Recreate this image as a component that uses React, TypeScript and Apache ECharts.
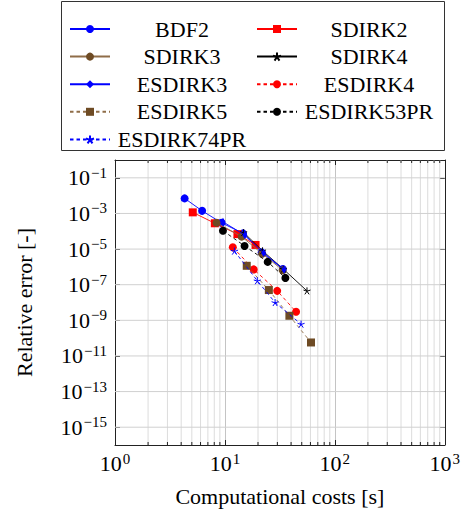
import React, { useEffect, useRef } from 'react';
import * as echarts from 'echarts';

const FONT = '"Liberation Serif", "Times New Roman", serif';

// axis ranges and ticks
const xRange = [1, 1000];
const yRange = [1e-16, 1];
const yTickValues = [1e-1, 1e-3, 1e-5, 1e-7, 1e-9, 1e-11, 1e-13, 1e-15];
const xMinorValues = [2, 3, 4, 5, 6, 7, 8, 9, 20, 30, 40, 50, 60, 70, 80, 90, 200, 300, 400, 500, 600, 700, 800, 900];

// series data: computational cost [s] and relative error [-]
const costBDF2 = [4.3, 6.2, 9.3, 14.6, 21.6, 33.6];
const errBDF2 = [7e-3, 1.4e-3, 3.0e-4, 7.6e-5, 6.5e-6, 7.6e-7];
const costSDIRK2 = [5.1, 8.1, 13.0, 19.0];
const errSDIRK2 = [1.15e-3, 2.8e-4, 6.9e-5, 1.7e-5];
const costSDIRK3 = [8.4, 14.2, 21.8, 33.5];
const errSDIRK3 = [3.0e-4, 5.0e-5, 5.5e-6, 6.5e-7];
const costSDIRK4 = [14.8, 22.0, 34.0, 55.8];
const errSDIRK4 = [8.5e-5, 8.0e-6, 7.5e-7, 4.5e-8];
const costESDIRK3 = [9.6, 15.2, 22.5, 34.5];
const errESDIRK3 = [3.4e-4, 6.0e-5, 6.0e-6, 7.0e-7];
const costESDIRK4 = [11.8, 18.3, 29.9, 44.4];
const errESDIRK4 = [1.25e-5, 7.2e-7, 4.5e-8, 3.0e-9];
const costESDIRK5 = [15.8, 25.1, 38.6, 60.7];
const errESDIRK5 = [1.15e-6, 5.0e-8, 1.8e-9, 5.7e-11];
const costESDIRK53PR = [9.6, 15.1, 24.5, 35.5];
const errESDIRK53PR = [1.07e-4, 1.5e-5, 1.9e-6, 2.4e-7];
const costESDIRK74PR = [12.2, 19.7, 28.6, 49.3];
const errESDIRK74PR = [7.7e-6, 1.66e-7, 1.0e-8, 6.1e-10];

// legend order: [column 1 entries, column 2 entries]
const legendCol1 = ['BDF2', 'SDIRK3', 'ESDIRK3', 'ESDIRK5', 'ESDIRK74PR'];
const legendCol2 = ['SDIRK2', 'SDIRK4', 'ESDIRK4', 'ESDIRK53PR'];

const STAR = 'path://M0,-10L0,0M9.51,-3.09L0,0M5.88,8.09L0,0M-5.88,8.09L0,0M-9.51,-3.09L0,0';
const BLUE = '#0000ff';
const RED = '#ff0000';
const BROWN = '#6e4b24';
const BROWN_LINE = '#8f6d48';
const BLACK = '#000000';

function mk(name: string, xs: number[], ys: number[], color: string, symbol: string, size: any, dashed: boolean, z: number, lineColor?: string, stroked?: boolean) {
  return {
    type: 'line',
    name,
    data: xs.map((x, i) => [x, ys[i]]),
    symbol,
    symbolSize: size,
    showAllSymbol: true,
    z,
    lineStyle: { color: lineColor || color, width: 0.9, type: dashed ? [3.5, 3] : 'solid' },
    itemStyle: { color, borderColor: color, borderWidth: stroked ? 1 : 0 },
    emphasis: { disabled: true },
  };
}

function supLabel(v: number) {
  const e = Math.round(Math.log10(v));
  const s = e < 0 ? '\u2212' + String(-e) : String(e);
  return `{b|10}{s|${s}}`;
}

const labelRich = {
  b: { fontFamily: FONT, fontSize: 22, color: '#000' },
  s: { fontFamily: FONT, fontSize: 15, color: '#000', padding: [0, 0, 10, 1] },
};

export default function App() {
  const ref = useRef<HTMLDivElement>(null);
  useEffect(() => {
    if (!ref.current) return;
    const chart = echarts.init(ref.current, undefined, { renderer: 'svg' });
    const legendCommon = {
      orient: 'vertical',
      itemWidth: 40,
      itemHeight: 10,
      itemGap: 0,
      padding: 0,
      selectedMode: false,
      formatter: (n: string) => `{c|${n}}`,
      textStyle: {
        rich: {
          c: { width: 134, align: 'center', fontFamily: FONT, fontSize: 22, color: '#000', lineHeight: 10 },
        },
      },
    };
    const legends: any[] = [];
    legendCol1.forEach((n, i) => legends.push({ ...legendCommon, left: 69, top: 18 + i * 27.6, data: [n] }));
    legendCol2.forEach((n, i) => legends.push({ ...legendCommon, left: 256, top: 18 + i * 27.6, data: [n] }));
    const option: any = {
      animation: false,
      textStyle: { fontFamily: FONT },
      grid: { left: 115, right: 17, top: 160, bottom: 72 },
      legend: legends,
      graphic: [
        {
          type: 'rect',
          shape: { x: 61.5, y: 1.5, width: 383, height: 149 },
          style: { fill: 'none', stroke: '#333', lineWidth: 1 },
          silent: true,
        },
      ],
      xAxis: [
        {
          type: 'log',
          logBase: 10,
          min: xRange[0],
          max: xRange[1],
          name: 'Computational costs [s]',
          nameLocation: 'middle',
          nameGap: 40,
          nameTextStyle: { fontFamily: FONT, fontSize: 22, color: '#000' },
          axisLine: { show: true, lineStyle: { color: '#222', width: 1 } },
          axisTick: { show: true, inside: true, length: 5, lineStyle: { color: '#222' } },
          axisLabel: { margin: 6, formatter: supLabel, rich: labelRich },
          splitLine: { show: true, lineStyle: { color: '#c4c4c4', width: 1 } },
          minorTick: { show: false },
        },
        {
          type: 'log',
          logBase: 10,
          position: 'top',
          min: xRange[0],
          max: xRange[1],
          axisLine: { show: true, lineStyle: { color: '#222', width: 1 } },
          axisTick: { show: true, inside: true, length: 5, lineStyle: { color: '#222' } },
          axisLabel: { show: false },
          splitLine: { show: false },
        },
      ],
      yAxis: [
        {
          type: 'log',
          logBase: 10,
          min: yRange[0],
          max: yRange[1],
          name: 'Relative error [-]',
          nameLocation: 'middle',
          nameGap: 80,
          nameTextStyle: { fontFamily: FONT, fontSize: 22, color: '#000' },
          axisLine: { show: true, lineStyle: { color: '#222', width: 1 } },
          axisTick: { show: true, inside: true, length: 5, lineStyle: { color: '#222' }, customValues: yTickValues },
          axisLabel: { margin: 8, formatter: supLabel, rich: labelRich, customValues: yTickValues },
          splitLine: { show: false },
        },
        {
          type: 'log',
          logBase: 10,
          position: 'right',
          min: yRange[0],
          max: yRange[1],
          axisLine: { show: true, lineStyle: { color: '#222', width: 1 } },
          axisTick: { show: true, inside: true, length: 5, lineStyle: { color: '#222' }, customValues: yTickValues },
          axisLabel: { show: false },
          splitLine: { show: false },
        },
      ],
      series: [
        {
          type: 'custom',
          silent: true,
          z: 1,
          xAxisIndex: 0,
          yAxisIndex: 0,
          data: xMinorValues.map((v) => [v, yRange[1]]),
          encode: { x: 0, y: 1 },
          renderItem: (params: any, api: any) => {
            const v = api.value(0);
            const top = api.coord([v, yRange[1]]);
            const bot = api.coord([v, yRange[0]]);
            return {
              type: 'group',
              children: [
                { type: 'line', shape: { x1: top[0], y1: top[1], x2: bot[0], y2: bot[1] }, style: { stroke: '#dcdcdc', lineWidth: 1 } },
                { type: 'line', shape: { x1: bot[0], y1: bot[1], x2: bot[0], y2: bot[1] - 3 }, style: { stroke: '#222', lineWidth: 1 } },
                { type: 'line', shape: { x1: top[0], y1: top[1], x2: top[0], y2: top[1] + 3 }, style: { stroke: '#222', lineWidth: 1 } },
              ],
            };
          },
        },
        {
          type: 'custom',
          silent: true,
          z: 1,
          xAxisIndex: 0,
          yAxisIndex: 0,
          data: yTickValues.map((v) => [xRange[0], v]),
          encode: { x: 0, y: 1 },
          renderItem: (params: any, api: any) => {
            const v = api.value(1);
            const l = api.coord([xRange[0], v]);
            const r = api.coord([xRange[1], v]);
            return { type: 'line', shape: { x1: l[0], y1: l[1], x2: r[0], y2: r[1] }, style: { stroke: '#d0d0d0', lineWidth: 1 } };
          },
        },
        mk('BDF2', costBDF2, errBDF2, BLUE, 'circle', 8, false, 3),
        mk('SDIRK2', costSDIRK2, errSDIRK2, RED, 'rect', 8, false, 4),
        mk('SDIRK3', costSDIRK3, errSDIRK3, BROWN, 'circle', 8, false, 5, BROWN_LINE),
        mk('SDIRK4', costSDIRK4, errSDIRK4, BLACK, STAR, 7, false, 6, undefined, true),
        mk('ESDIRK3', costESDIRK3, errESDIRK3, BLUE, 'diamond', [5, 8], false, 7),
        mk('ESDIRK4', costESDIRK4, errESDIRK4, RED, 'circle', 8, true, 8),
        mk('ESDIRK5', costESDIRK5, errESDIRK5, BROWN, 'rect', 8, true, 9, BROWN_LINE),
        mk('ESDIRK53PR', costESDIRK53PR, errESDIRK53PR, BLACK, 'circle', 8, true, 10),
        mk('ESDIRK74PR', costESDIRK74PR, errESDIRK74PR, BLUE, STAR, 7, true, 11, undefined, true),
      ],
    };
    chart.setOption(option);
    return () => chart.dispose();
  }, []);
  return <div ref={ref} style={{ position: 'absolute', left: 0, top: 0, width: 463, height: 517 }} />;
}
